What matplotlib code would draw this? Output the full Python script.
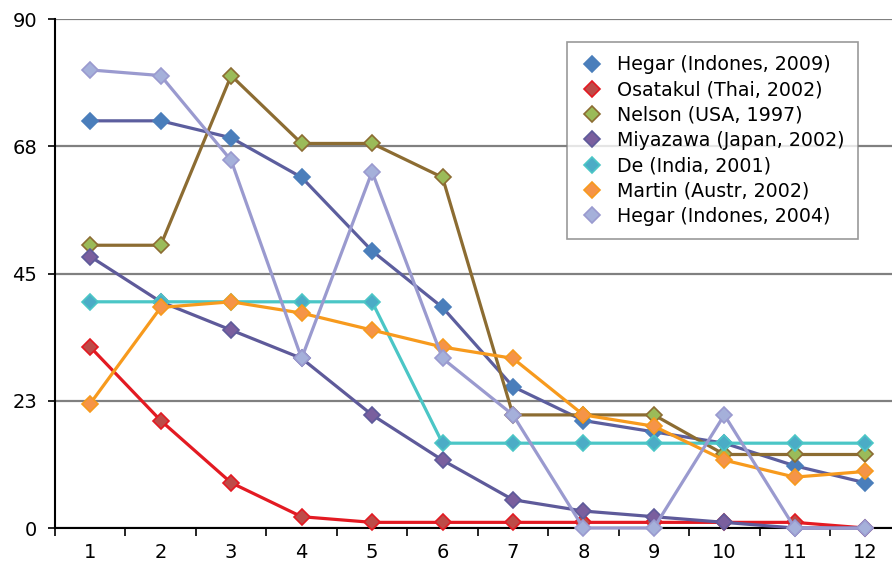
import matplotlib.pyplot as plt

# values
x = list(range(1, 13))
hegar_2009 = [72, 72, 69, 62, 49, 39, 25, 19, 17, 15, 11, 8]
osatakul = [32, 19, 8, 2, 1, 1, 1, 1, 1, 1, 1, 0]
nelson = [50, 50, 80, 68, 68, 62, 20, 20, 20, 13, 13, 13]
miyazawa = [48, 40, 35, 30, 20, 12, 5, 3, 2, 1, 0, 0]
de = [40, 40, 40, 40, 40, 15, 15, 15, 15, 15, 15, 15]
martin = [22, 39, 40, 38, 35, 32, 30, 20, 18, 12, 9, 10]
hegar_2004 = [81, 80, 65, 30, 63, 30, 20, 0, 0, 20, 0, 0]

series = [
    ('Hegar (Indones, 2009)', hegar_2009, '#5C5E9E', '#4A7EBB', '#4A7EBB'),
    ('Osatakul (Thai, 2002)', osatakul, '#E31A22', '#BE4B48', '#E31A22'),
    ('Nelson (USA, 1997)', nelson, '#8C6C32', '#9BBB59', '#8C6C32'),
    ('Miyazawa (Japan, 2002)', miyazawa, '#5E5A9A', '#7A5F9E', '#5E5A9A'),
    ('De (India, 2001)', de, '#4BC6C6', '#4BACC6', '#4BC6C6'),
    ('Martin (Austr, 2002)', martin, '#F79A1D', '#F59448', '#F79A1D'),
    ('Hegar (Indones, 2004)', hegar_2004, '#9A9ACF', '#A5B0DA', '#9A9ACF'),
]

fig = plt.figure(figsize=(8.92, 5.68), dpi=100)
ax = fig.add_axes([0.0617, 0.0704, 0.9383, 0.8961])

for label, vals, lc, mc, ec in series:
    ax.plot(x, vals, color=lc, lw=2.3, marker='D', ms=8.5,
            markerfacecolor=mc, markeredgecolor=ec, markeredgewidth=1.2,
            label=label, clip_on=False, zorder=3)

ax.set_ylim(0, 90)
ax.set_yticks([0, 22.5, 45, 67.5, 90])
ax.set_yticklabels(['0', '23', '45', '68', '90'])
ax.set_xlim(0.5, 12.38)
ax.set_xticks(x)
ax.set_xticks([i + 0.5 for i in range(0, 12)], minor=True)
ax.tick_params(axis='x', which='major', length=0, pad=11, labelsize=14)
ax.tick_params(axis='x', which='minor', length=6, width=1.2, direction='out')
ax.tick_params(axis='y', length=5, width=1.2, labelsize=14, pad=8)

ax.yaxis.grid(True, color='#808080', lw=1.6)
ax.set_axisbelow(True)
for s in ['top', 'right']:
    ax.spines[s].set_visible(False)
ax.spines['left'].set_linewidth(1.5)
ax.spines['bottom'].set_linewidth(1.5)
ax.spines['bottom'].set_zorder(2)

leg = ax.legend(loc='upper left', bbox_to_anchor=(0.612, 0.955), fontsize=13.7,
                frameon=True, fancybox=False, edgecolor='#808080',
                handlelength=1.2, labelspacing=0.33, borderpad=0.7,
                handletextpad=0.7, borderaxespad=0)
leg.get_frame().set_linewidth(1.2)
for h in leg.legend_handles:
    h.set_linestyle('None')

plt.savefig('out.png', dpi=100)
